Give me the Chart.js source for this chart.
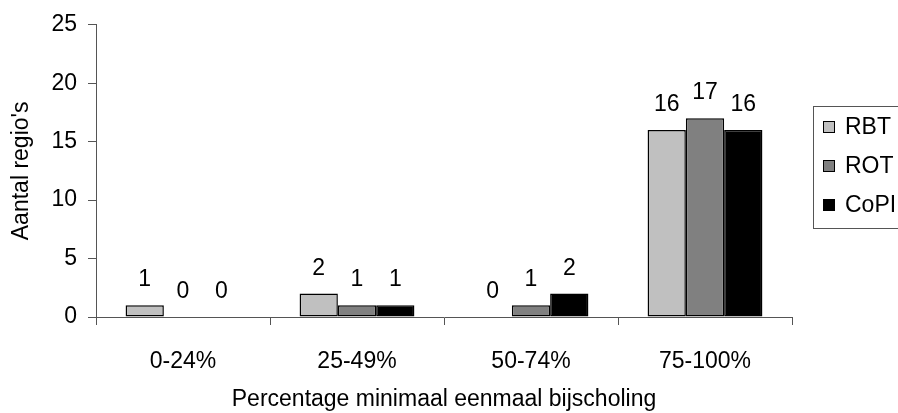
<!DOCTYPE html>
<html>
<head>
<meta charset="utf-8">
<script src="https://cdn.jsdelivr.net/npm/chart.js@4"></script>
<style>
html,body{margin:0;padding:0;background:#fff;}
canvas{display:block;}
</style>
</head>
<body>
<canvas id="c" width="898" height="413"></canvas>
<script>
const categories = ["0-24%", "25-49%", "50-74%", "75-100%"];
const seriesNames = ["RBT", "ROT", "CoPI"];
const rbt = [1, 2, 0, 16];
const rot = [0, 1, 1, 17];
const copi = [0, 1, 2, 16];
const yTicks = [0, 5, 10, 15, 20, 25];
const colors = ["#c0c0c0", "#808080", "#000000"];
const xTitle = "Percentage minimaal eenmaal bijscholing";
const yTitle = "Aantal regio's";

const FONT = "'Liberation Sans', Arial, sans-serif";
const FS = 23;

const valueLabels = {
  id: 'valueLabels',
  afterDatasetsDraw(chart) {
    const ctx = chart.ctx;
    ctx.save();
    ctx.font = FS + "px " + FONT;
    ctx.fillStyle = "#000";
    ctx.textAlign = "center";
    ctx.textBaseline = "alphabetic";
    chart.data.datasets.forEach((ds, i) => {
      const meta = chart.getDatasetMeta(i);
      meta.data.forEach((el, j) => {
        ctx.fillText(String(ds.data[j]), el.x, el.y - 19);
      });
    });
    ctx.restore();
  }
};

const boxLegend = {
  id: 'boxLegend',
  afterDraw(chart) {
    const ctx = chart.ctx;
    ctx.save();
    const x0 = 813, y0 = 106, w = 120, h = 122;
    ctx.fillStyle = "#fff";
    ctx.fillRect(x0, y0, w, h);
    ctx.strokeStyle = "#555";
    ctx.lineWidth = 1;
    ctx.strokeRect(x0 + 0.5, y0 + 0.5, w, h);
    ctx.font = FS + "px " + FONT;
    ctx.textAlign = "left";
    ctx.textBaseline = "middle";
    chart.data.datasets.forEach((ds, i) => {
      const cy = 127 + i * 39;
      ctx.fillStyle = ds.backgroundColor;
      ctx.fillRect(823, cy - 6, 12, 12);
      ctx.strokeStyle = "#000";
      ctx.lineWidth = 1;
      ctx.strokeRect(823.5, cy - 5.5, 11, 11);
      ctx.fillStyle = "#000";
      ctx.fillText(ds.label, 845, cy + 1);
    });
    ctx.restore();
  }
};

const datasets = [rbt, rot, copi].map((d, i) => ({
  label: seriesNames[i],
  data: d,
  backgroundColor: colors[i],
  borderColor: "#000",
  borderWidth: 1.5,
  borderSkipped: false,
  categoryPercentage: 0.66,
  barPercentage: 1.0
}));

new Chart(document.getElementById('c'), {
  type: 'bar',
  data: { labels: categories, datasets: datasets },
  options: {
    responsive: false,
    animation: false,
    devicePixelRatio: 1,
    layout: { padding: { top: 20, right: 106, left: 0, bottom: 0 } },
    plugins: { legend: { display: false }, tooltip: { enabled: false } },
    scales: {
      x: {
        grid: { offset: true, drawOnChartArea: false, tickLength: 8, color: "#555", lineWidth: 1 },
        border: { color: "#555", width: 1 },
        ticks: { color: "#000", font: { family: FONT, size: FS }, padding: 23, maxRotation: 0 },
        title: { display: true, text: xTitle, color: "#000", font: { family: FONT, size: FS }, padding: { top: 4, bottom: 0 } },
        afterFit(scale) { scale.height = 96; }
      },
      y: {
        min: 0, max: 25,
        afterBuildTicks(scale) { scale.ticks = yTicks.map(v => ({ value: v })); },
        grid: { drawOnChartArea: false, tickLength: 8, color: "#555", lineWidth: 1 },
        border: { color: "#555", width: 1 },
        ticks: { color: "#000", font: { family: FONT, size: FS }, padding: 11 },
        title: { display: true, text: yTitle, color: "#000", font: { family: FONT, size: FS }, padding: { top: 8, bottom: 0 } },
        afterFit(scale) { scale.width = 96; }
      }
    }
  },
  plugins: [valueLabels, boxLegend]
});
</script>
</body>
</html>
